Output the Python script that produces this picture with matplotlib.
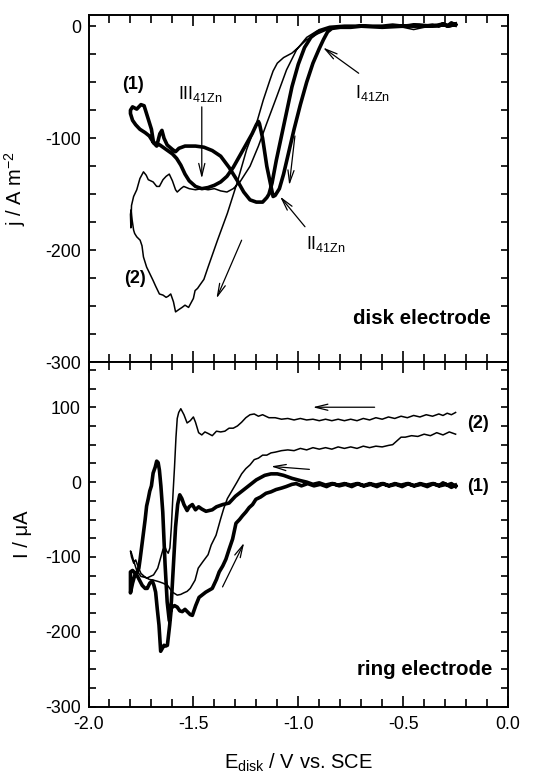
import numpy as np
import matplotlib
matplotlib.use('Agg')
import matplotlib.pyplot as plt
from matplotlib.ticker import MultipleLocator, FormatStrFormatter

plt.rcParams['font.family'] = ['Liberation Sans', 'DejaVu Sans']
plt.rcParams['mathtext.default'] = 'regular'
plt.rcParams['axes.unicode_minus'] = False

# ---------------- disk electrode, curve (1) thick ----------------
disk1_E = [-0.25, -0.27, -0.29, -0.31, -0.33, -0.36, -0.40, -0.45, -0.50, -0.55,
           -0.60, -0.65, -0.70, -0.75, -0.80, -0.84, -0.86, -0.88, -0.90, -0.93,
           -0.96, -0.99, -1.02, -1.045, -1.07, -1.09, -1.11, -1.12,
           -1.15, -1.17, -1.185, -1.19, -1.20, -1.22, -1.25, -1.28, -1.31, -1.34,
           -1.37, -1.40, -1.43, -1.46, -1.49, -1.52, -1.54, -1.56, -1.58, -1.60,
           -1.63, -1.66, -1.69, -1.71, -1.73, -1.755, -1.775, -1.79, -1.80,
           -1.80, -1.79, -1.77, -1.75, -1.735, -1.72, -1.70, -1.69, -1.675, -1.66,
           -1.65, -1.64, -1.625, -1.60, -1.585, -1.569, -1.54, -1.49, -1.45, -1.41,
           -1.37, -1.33, -1.29, -1.26, -1.23, -1.20, -1.17, -1.15, -1.14,
           -1.125, -1.105, -1.08, -1.055, -1.03, -1.00, -0.97, -0.94, -0.90, -0.85,
           -0.78, -0.70, -0.60, -0.50, -0.42, -0.36, -0.31, -0.28, -0.25]
disk1_j = [1, 3, 0, 2, 0, 1, 0, 1, 0, 1,
           0, 0, 0, -1, -1, -2, -5, -12, -20, -33,
           -50, -70, -92, -112, -132, -145, -151, -152,
           -125, -100, -87, -85, -88, -96, -106, -116, -126, -134,
           -139, -142, -144, -145, -143, -138, -132, -124, -118, -114,
           -110, -106, -104, -98, -95, -92, -88, -84, -78,
           -75, -72, -74, -70, -71, -80, -92, -104, -107, -96,
           -93, -100, -106, -110, -112, -109, -107, -107, -108, -111,
           -116, -126, -138, -148, -155, -157, -157, -153, -150,
           -140, -120, -98, -76, -54, -34, -19, -10, -4, -1,
           0, 0, -1, 0, 1, 0, 2, 0, 2]

# ---------------- disk electrode, curve (2) thin ----------------
disk2_E = [-0.25, -0.35, -0.45, -0.50, -0.60, -0.70, -0.80, -0.86, -0.91, -0.96,
           -1.00, -1.03, -1.07, -1.10, -1.12, -1.135, -1.167, -1.198, -1.246, -1.292,
           -1.338, -1.385, -1.43, -1.45, -1.469, -1.48, -1.492, -1.50, -1.523, -1.54,
           -1.554, -1.57, -1.585, -1.595, -1.608, -1.62, -1.63, -1.645, -1.662, -1.68,
           -1.692, -1.71, -1.723, -1.738, -1.745, -1.754, -1.77, -1.78, -1.785, -1.792,
           -1.797, -1.80, -1.798,
           -1.795, -1.785, -1.77, -1.755, -1.738, -1.725, -1.715, -1.692, -1.675, -1.662,
           -1.645, -1.63, -1.615, -1.60, -1.585, -1.577, -1.56, -1.546, -1.52, -1.49,
           -1.46, -1.43, -1.40, -1.37, -1.34, -1.31, -1.278, -1.23, -1.19, -1.151,
           -1.103, -1.056, -1.008, -0.96, -0.913, -0.85, -0.75, -0.60, -0.50, -0.45,
           -0.40, -0.33, -0.25]
disk2_j = [0, 0, -1, 0, 0, 0, -1, -3, -7, -12,
           -19, -24, -28, -33, -40, -48, -66, -86, -110, -140,
           -167, -191, -215, -226, -231, -234, -236, -243, -251, -249,
           -251, -253, -255, -246, -239, -241, -242, -240, -239, -232,
           -227, -220, -215, -206, -196, -191, -188, -185, -182, -173,
           -164, -168, -180,
           -160, -152, -146, -136, -130, -133, -137, -139, -143, -143,
           -137, -134, -132, -138, -146, -148, -145, -143, -145, -146,
           -145, -146, -145, -147, -148, -145, -139, -125, -107, -87,
           -63, -39, -21, -10, -4.5, -1.5, 0, 0, -1, -3,
           -1, 0, 1]

# ---------------- ring electrode, curve (1) thick ----------------
ring1_E = [-0.25, -0.27, -0.29, -0.31, -0.33, -0.36, -0.39, -0.42, -0.45, -0.48,
           -0.51, -0.54, -0.57, -0.60, -0.63, -0.66, -0.69, -0.72, -0.75, -0.78,
           -0.81, -0.84, -0.87, -0.90, -0.93, -0.96, -0.99,
           -1.03, -1.07, -1.10, -1.13, -1.16, -1.20, -1.25, -1.30, -1.33, -1.36,
           -1.39, -1.41, -1.44, -1.46, -1.475, -1.49, -1.505, -1.52, -1.53, -1.545,
           -1.555, -1.565, -1.575, -1.585, -1.595, -1.605, -1.615, -1.625, -1.635, -1.646,
           -1.655, -1.662, -1.668, -1.675, -1.682, -1.692, -1.70, -1.708, -1.715, -1.723,
           -1.73, -1.738, -1.746, -1.754, -1.76, -1.769, -1.78, -1.79, -1.80,
           -1.80, -1.79, -1.78, -1.768, -1.755, -1.744, -1.73, -1.72, -1.708, -1.696,
           -1.688, -1.68, -1.672, -1.664, -1.656, -1.648, -1.64, -1.632, -1.624, -1.613,
           -1.605, -1.59, -1.577, -1.565, -1.553, -1.54, -1.529, -1.515, -1.505, -1.489,
           -1.473, -1.455, -1.441, -1.41, -1.39, -1.377, -1.36, -1.345, -1.33, -1.313,
           -1.297, -1.28, -1.266, -1.25, -1.234, -1.218, -1.202, -1.18, -1.154, -1.13,
           -1.106, -1.08, -1.058, -1.03, -1.01, -0.985, -0.955, -0.925, -0.895, -0.865,
           -0.835, -0.805, -0.775, -0.745, -0.715, -0.685, -0.655, -0.625, -0.595, -0.565,
           -0.535, -0.505, -0.475, -0.445, -0.415, -0.385, -0.355, -0.325, -0.295, -0.27, -0.25]
ring1_I = [-6, -2, -4, -1, -5, -2, -4, -2, -5, -2,
           -4, -2, -5, -2, -4, -2, -5, -2, -4, -2,
           -4, -2, -4, -1, -3, 0, 2,
           5, 9, 11, 11, 9, 3, -8, -19, -28, -30,
           -33, -37, -39, -36, -33, -37, -30, -33, -38, -30,
           -22, -17, -30, -60, -110, -160, -185, -160, -110, -40,
           -5, 16, 26, 28, 20, 12, -5, -12, -22, -32,
           -50, -68, -85, -103, -115, -121, -125, -135, -148,
           -120, -118, -121, -125, -132, -138, -142, -142, -135, -132,
           -138, -147, -170, -191, -226, -222, -218, -219, -218, -191,
           -168, -165, -167, -172, -173, -170, -173, -177, -178, -165,
           -154, -150, -147, -142, -130, -120, -112, -103, -90, -76,
           -55, -50, -45, -40, -34, -30, -23, -20, -15, -13,
           -10, -8, -6, -3, -2, -5, -2, -5, -3, -6,
           -2, -5, -3, -6, -2, -5, -3, -6, -2, -5,
           -3, -6, -2, -5, -3, -6, -2, -5, -3, -7, -4]

# ---------------- ring electrode, curve (2) thin ----------------
ring2_E = [-0.25, -0.27, -0.29, -0.31, -0.33, -0.36, -0.39, -0.42, -0.45, -0.48,
           -0.51, -0.54, -0.57, -0.60, -0.63, -0.66, -0.69, -0.72, -0.75, -0.78,
           -0.81, -0.84, -0.87, -0.90, -0.93, -0.96, -0.99, -1.02, -1.05, -1.08,
           -1.11, -1.14, -1.17, -1.19, -1.21, -1.23, -1.25, -1.27, -1.29, -1.31,
           -1.33, -1.35, -1.37, -1.39, -1.41, -1.43, -1.445, -1.46, -1.475, -1.49,
           -1.50, -1.515, -1.53, -1.545, -1.56, -1.57, -1.577, -1.583, -1.59, -1.597,
           -1.605, -1.612, -1.62, -1.628, -1.636, -1.645, -1.655, -1.67, -1.69, -1.72,
           -1.75, -1.77, -1.785, -1.795, -1.80,
           -1.795, -1.785, -1.775, -1.765, -1.75, -1.73, -1.71, -1.69, -1.665, -1.645,
           -1.623, -1.60, -1.577, -1.56, -1.546, -1.53, -1.515, -1.492, -1.477, -1.454,
           -1.43, -1.415, -1.392, -1.37, -1.355, -1.338, -1.315, -1.292, -1.27, -1.25,
           -1.23, -1.21, -1.19, -1.17, -1.15, -1.13, -1.11, -1.08, -1.05, -1.02,
           -0.99, -0.96, -0.93, -0.90, -0.87, -0.84, -0.81, -0.78, -0.75, -0.72,
           -0.69, -0.66, -0.63, -0.60, -0.57, -0.55, -0.53, -0.51, -0.49, -0.46,
           -0.43, -0.40, -0.37, -0.34, -0.31, -0.28, -0.25]
ring2_I = [93, 90, 92, 89, 91, 88, 90, 87, 89, 86,
           88, 85, 87, 84, 86, 83, 85, 82, 84, 82,
           84, 82, 84, 82, 84, 83, 85, 83, 85, 84,
           86, 86, 90, 88, 91, 90, 86, 80, 75, 72,
           72, 68, 67, 68, 62, 65, 67, 63, 66, 80,
           87, 82, 79, 90, 98, 93, 85, 60, 20, -15,
           -60, -88, -95, -92, -86, -90, -100, -115, -124, -128,
           -126, -118, -105, -95, -92,
           -100, -108, -104, -112, -122, -127, -130, -131, -133, -135,
           -138, -147, -151, -150, -148, -146, -142, -131, -115, -106,
           -97, -84, -71, -49, -35, -22, -11, 0, 11, 18,
           23, 30, 32, 36, 36, 39, 40, 42, 43, 42,
           45, 43, 46, 44, 46, 44, 47, 45, 47, 45,
           48, 46, 48, 47, 49, 50, 55, 60, 60, 62,
           61, 64, 62, 66, 63, 67, 64]

fig = plt.figure(figsize=(5.43, 7.77), dpi=100)
ax1 = fig.add_axes([0.163, 0.5337, 0.7726, 0.447])
ax2 = fig.add_axes([0.163, 0.0905, 0.7726, 0.4432])

thick, thin = 2.6, 1.1
ax1.plot(disk2_E, disk2_j, color='black', lw=thin)
ax1.plot(disk1_E, disk1_j, color='black', lw=thick, solid_joinstyle='round')
ax2.plot(ring2_E, ring2_I, color='black', lw=thin)
ax2.plot(ring1_E, ring1_I, color='black', lw=thick, solid_joinstyle='round')

for ax in (ax1, ax2):
    ax.set_xlim(-2.0, 0.0)
    ax.xaxis.set_major_locator(MultipleLocator(0.5))
    ax.xaxis.set_minor_locator(MultipleLocator(0.1))
    ax.yaxis.set_major_locator(MultipleLocator(100))
    ax.yaxis.set_minor_locator(MultipleLocator(25))
    ax.tick_params(which='both', direction='in', top=True, right=True,
                   labelsize=12.8, width=1.2)
    ax.tick_params(axis='x', which='major', length=8, pad=7)
    ax.tick_params(axis='x', which='minor', length=5.5)
    ax.tick_params(axis='y', which='both', length=5, pad=5.5)
    for s in ax.spines.values():
        s.set_linewidth(1.4)

ax1.set_ylim(-300, 10)
ax1.tick_params(labelbottom=False)
ax2.set_ylim(-300, 160)
ax2.xaxis.set_major_formatter(FormatStrFormatter('%.1f'))

ax1.set_ylabel('j / A m$^{-2}$', fontsize=14.5)
ax1.yaxis.set_label_coords(-0.144, 0.5)
ax2.set_ylabel('I / μA', fontsize=14.5)
ax2.yaxis.set_label_coords(-0.135, 0.5)
ax2.set_xlabel('E$_{disk}$ / V vs. SCE', fontsize=14.5)
ax2.xaxis.set_label_coords(0.5, -0.13)

arr = dict(arrowstyle='->,head_length=0.9,head_width=0.22', lw=0.9,
           color='black', shrinkA=0, shrinkB=0)

# disk annotations
ax1.annotate('', xy=(-1.46, -136), xytext=(-1.46, -72), arrowprops=arr)
ax1.text(-1.575, -65, 'III$_{41Zn}$', fontsize=13)
ax1.annotate('', xy=(-0.882, -19), xytext=(-0.712, -42), arrowprops=arr)
ax1.text(-0.73, -64, 'I$_{41Zn}$', fontsize=13)
ax1.annotate('', xy=(-1.087, -152), xytext=(-0.968, -179), arrowprops=arr)
ax1.text(-0.965, -199, 'II$_{41Zn}$', fontsize=13)
ax1.annotate('', xy=(-1.043, -142), xytext=(-1.016, -98), arrowprops=arr)
ax1.annotate('', xy=(-1.39, -243), xytext=(-1.27, -191), arrowprops=arr)
ax1.text(-1.786, -52, '(1)', fontsize=13, fontweight='bold', ha='center', va='center')
ax1.text(-1.778, -225, '(2)', fontsize=13, fontweight='bold', ha='center', va='center')
ax1.text(-0.08, -261, 'disk electrode', fontsize=14.8, fontweight='bold',
         ha='right', va='center')

# ring annotations
ax2.annotate('', xy=(-0.931, 100), xytext=(-0.636, 100), arrowprops=arr)
ax2.annotate('', xy=(-1.13, 21), xytext=(-0.947, 17), arrowprops=arr)
ax2.annotate('', xy=(-1.258, -81), xytext=(-1.361, -140), arrowprops=arr)
ax2.text(-0.141, 78, '(2)', fontsize=13, fontweight='bold', ha='center', va='center')
ax2.text(-0.141, -6, '(1)', fontsize=13, fontweight='bold', ha='center', va='center')
ax2.text(-0.077, -251, 'ring electrode', fontsize=14.8, fontweight='bold',
         ha='right', va='center')

fig.savefig('out.png', dpi=100)
